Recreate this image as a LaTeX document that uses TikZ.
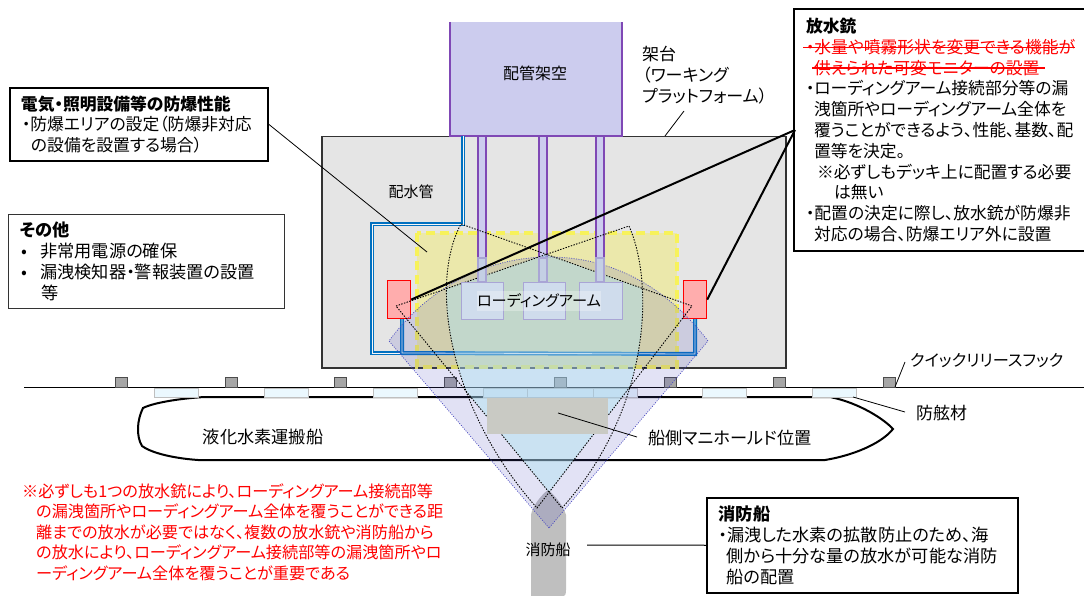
\documentclass[tikz,border=0pt]{standalone}
\usepackage{fontspec}
\usepackage{tikz}
\setmainfont{Noto Sans CJK JP}[RawFeature=+palt]
\definecolor{pipe_blue}{HTML}{0070C0}
\definecolor{rack_violet}{HTML}{7F48B5}
\definecolor{rack_fill}{HTML}{CCCCEE}
\definecolor{spray_blue}{HTML}{4A4AC0}
\definecolor{spray_lens}{HTML}{B0E4F0}
\definecolor{arm_line}{HTML}{A9A5D5}
\definecolor{arm_fill}{HTML}{CFDCEC}
\definecolor{arm_post}{HTML}{C4CFE4}
\definecolor{area_yellow}{HTML}{F7F25A}
\definecolor{manifold_fill}{HTML}{C9CAC4}
\newcommand{\fsize}[1]{\fontsize{#1}{20.8}\selectfont}

\begin{document}
\begin{tikzpicture}[x=1pt, y=-1pt,
		label_style/.style={inner sep=0pt,font=\fsize{17},align=left},
		box_thick/.style={draw=black,line width=2pt,fill=white,anchor=north west,inner sep=0pt,font=\fsize{16.8},align=left},
		box_thin/.style={box_thick,line width=1pt,draw=black!80},
		rack_style/.style={draw=rack_violet,line width=1.2pt,fill=rack_fill},
		arm_style/.style={draw=arm_line,line width=1.2pt,fill=arm_fill,anchor=north west,minimum height=37pt},
		monitor_style/.style={draw=red,line width=1.2pt,fill=red!32},
		pipe_style/.style={draw=pipe_blue,line width=1.6pt,double=black!3,double distance=.8pt},
		hook_style/.style={draw=black!70,line width=.8pt,fill=black!35},
		fender_style/.style={draw=black!25,line width=1pt,fill=cyan!8},
		spray_style/.style={draw=black,line width=.9pt,dash pattern=on 1.4pt off 1.4pt},
		edge_style/.style={draw=black,line width=.8pt},
		edge_thick/.style={draw=black,line width=2pt}]
		
		\useasboundingbox (0,0) rectangle (1084,596);
		
		% platform and rack
		\node[draw=black!80,line width=1.5pt,fill=black!10,anchor=north west,minimum width=464pt,minimum height=231pt,inner sep=0pt] (deck) at (321,136) {};
		\draw[draw=area_yellow,line width=3.2pt,dash pattern=on 9pt off 5pt,fill=yellow,fill opacity=.25] (417,233) rectangle (677,367);
		\fill[rack_fill] (450,22) rectangle (622,136);
		\draw[rack_style] (450,22) -- (450,136) -- (622,136) -- (622,22);
		\node[label_style,font=\fsize{16}] (rack) at (535,73) {配管架空};
		\foreach \x in {478,539,596}
			\draw[rack_style] (\x,136) rectangle (\x+8,282);
		
		% water pipes
		\draw[pipe_style] (463,136) -- (463,224) -- (372,224) -- (372,353) -- (402,353);
		\draw[pipe_style] (402,318) -- (402,353) -- (695,354) -- (695,318);
		
		% monitors
		\node[monitor_style,anchor=north west,minimum width=23pt,minimum height=38pt,inner sep=0pt] (mon_left) at (387,280) {};
		\node[monitor_style,anchor=north west,minimum width=23pt,minimum height=38pt,inner sep=0pt] (mon_right) at (683,280) {};
		
		% ship side
		\draw[line width=1pt] (24,387.5) -- (1084,387.5);
		\draw[fill=white,line width=2pt] (205,397) -- (830,397) .. controls (860,403) and (885,420) .. (893,429) .. controls (880,445) and (850,456) .. (825,460) -- (198,460) .. controls (170,458) and (150,452) .. (142,446) .. controls (136,436) and (137,420) .. (143,408) .. controls (155,402) and (185,398) .. (205,397) -- cycle;
		\foreach \x in {154,264,373,483,593,702,812}
			\draw[fender_style] (\x,388.5) rectangle (\x+44,397);
		\draw[fender_style] (527,388.5) rectangle (593,397);
		\foreach \x in {121,231,340,450,560,670,779,889}
			\draw[hook_style] (\x-6,377.5) rectangle (\x+6,387);
		
		% fire boat
		\fill[black!25] (531,596) -- (531,515) .. controls (532,507) and (541,495) .. (548,490) .. controls (555,495) and (564,507) .. (566,515) -- (566,590) .. controls (566,594) and (565,596) .. (564,596) -- cycle;
		
		% spray areas
		\path[fill=spray_blue,fill opacity=.16] (549,528) -- (389,341) .. controls (430,285) and (490,257) .. (549,257) .. controls (610,257) and (665,285) .. (708,341) -- cycle;
		\begin{scope}
			\clip (396,306) -- (629,226) .. controls (655,285) and (650,410) .. (562,508) -- cycle;
			\fill[spray_lens,fill opacity=.45] (692,306) -- (461,224) .. controls (428,285) and (450,410) .. (537,508) -- cycle;
		\end{scope}
		\draw[spray_blue,line width=.7pt,dash pattern=on 1pt off 1.4pt] (549,528) -- (389,341) .. controls (430,285) and (490,257) .. (549,257) .. controls (610,257) and (665,285) .. (708,341) -- cycle;
		\draw[spray_style] (396,306) -- (629,226) .. controls (655,285) and (650,410) .. (562,508) -- cycle;
		\draw[spray_style] (692,306) -- (461,224) .. controls (428,285) and (450,410) .. (537,508) -- cycle;
		
		% loading arms
		\foreach \x in {478,539,596}
			\draw[draw=arm_line,line width=1.2pt,fill=arm_post] (\x,258) rectangle (\x+8,282);
		\node[arm_style,minimum width=42pt] (arm1) at (461,282) {};
		\node[arm_style,minimum width=42pt] (arm2) at (523,282) {};
		\node[arm_style,minimum width=43pt] (arm3) at (579,282) {};
		\node[fill=white,fill opacity=.3,text opacity=1,label_style,font=\fsize{15.2},minimum width=122pt,minimum height=20pt] (arm_label) at (539,301) {ローディングアーム};
		\node[fill=manifold_fill,anchor=north west,minimum width=121pt,minimum height=36pt,inner sep=0pt] (manifold) at (487,398) {};
		
		% boxes
		\node[box_thick,minimum width=258pt,minimum height=73pt,text width=246pt] (box_elec) at (9,87) {\hspace*{5pt}\textbf{電気・照明設備等の防爆性能}\\\hspace*{6pt}・防爆エリアの設定（防爆非対応\\\hspace*{15pt}の設備を設置する場合）};
		\node[box_thin,font=\fsize{17.2},minimum width=276pt,minimum height=94pt,text width=262pt] (box_other) at (8,214) {\hspace*{5pt}\textbf{その他}\\\hspace*{6pt}•\hspace*{13pt}非常用電源の確保\\\hspace*{6pt}•\hspace*{13pt}漏洩検知器・警報装置の設置\\\hspace*{26pt}等};
		\node[box_thick,minimum width=298pt,minimum height=242pt,text width=284pt] (box_monitor) at (793,8) {\hspace*{5pt}\textbf{放水銃}\\\hspace*{5pt}\textcolor{red}{・水量や噴霧形状を変更できる機能が}\\\hspace*{13pt}\textcolor{red}{供えられた可変モニターの設置}\\\hspace*{5pt}・ローディングアーム接続部分等の漏\\\hspace*{13pt}洩箇所やローディングアーム全体を\\\hspace*{13pt}覆うことができるよう、性能、基数、配\\\hspace*{13pt}置等を決定。\\\hspace*{16pt}※必ずしもデッキ上に配置する必要\\\hspace*{33pt}は無い\\\hspace*{5pt}・配置の決定に際し、放水銃が防爆非\\\hspace*{13pt}対応の場合、防爆エリア外に設置};
		\node[box_thick,line width=1.5pt,font=\fsize{17.2},minimum width=311pt,minimum height=95pt,text width=297pt] (box_boat) at (706,497) {\hspace*{5pt}\textbf{消防船}\\\hspace*{5pt}・漏洩した水素の拡散防止のため、海\\\hspace*{13pt}側から十分な量の放水が可能な消防\\\hspace*{13pt}船の配置};
		
		% labels
		\node[label_style,anchor=west] (deck_label) at (642,75) {架台\\（ワーキング\\プラットフォーム）};
		\node[label_style,font=\fsize{15}] (pipe_label) at (411,192) {配水管};
		\node[label_style,font=\fsize{17.2}] (ship_label) at (263,437) {液化水素運搬船};
		\node[label_style,anchor=west,font=\fsize{17.2}] (manifold_label) at (648,438) {船側マニホールド位置};
		\node[label_style,anchor=west] (fender_label) at (916,413) {防舷材};
		\node[label_style,anchor=west,font=\fsize{16.2}] (hook_label) at (910,361) {クイックリリースフック};
		\node[label_style,font=\fsize{15}] (boat_label) at (548,550) {消防船};
		\node[label_style,anchor=west,text=red,font=\fontsize{16.15}{20.4}\selectfont] (note) at (22,532) {※必ずしも1つの放水銃により、ローディングアーム接続部等\\\hspace*{14pt}の漏洩箇所やローディングアーム全体を覆うことができる距\\\hspace*{14pt}離までの放水が必要ではなく、複数の放水銃や消防船から\\\hspace*{14pt}の放水により、ローディングアーム接続部等の漏洩箇所やロ\\\hspace*{14pt}ーディングアーム全体を覆うことが重要である};
		
		% leaders
		\coordinate (p_area) at (427,252);
		\coordinate (p_deck) at (665,136);
		\coordinate (p_deck2) at (684,111);
		\coordinate (p_hook) at (895,387);
		\coordinate (p_hook2) at (905,362);
		\coordinate (p_fender) at (853,397);
		\coordinate (p_fender2) at (905,412);
		\coordinate (p_mani) at (558,413);
		\coordinate (p_mani2) at (637,437);
		\coordinate (p_boat) at (587,545);
		\coordinate (p_mon) at (795,130);
		\coordinate (s1a) at (803,47.5);
		\coordinate (s1b) at (1075,47.5);
		\coordinate (s2a) at (812,68);
		\coordinate (s2b) at (1045,68);
		
		\draw[edge_style] (box_elec.east) -- (p_area);
		\draw[edge_style] (p_deck) -- (p_deck2);
		\draw[edge_style] (p_hook) -- (p_hook2);
		\draw[edge_style] (p_fender) -- (p_fender2);
		\draw[edge_style] (p_mani) -- (p_mani2);
		\draw[edge_style,line width=1pt] (p_boat) -- (box_boat.west);
		\draw[edge_thick] (mon_left.east) -- (p_mon);
		\draw[edge_thick] (mon_right.east) -- (p_mon);
		\draw[red,line width=1.6pt] (s1a) -- (s1b);
		\draw[red,line width=1.6pt] (s2a) -- (s2b);
		
		\end{tikzpicture}
\end{document}
